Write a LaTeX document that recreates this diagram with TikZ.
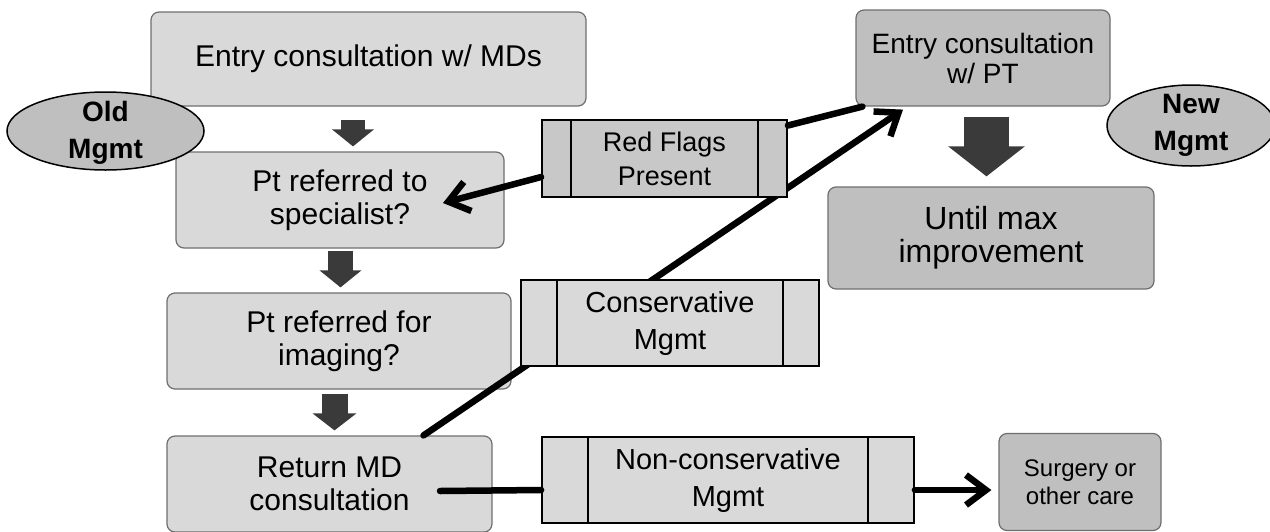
\documentclass[tikz,border=0pt]{standalone}
\usepackage{fontspec}
\setmainfont{Liberation Sans}
\usetikzlibrary{arrows.meta,shapes.geometric}

\definecolor{boxlight}{HTML}{D9D9D9}
\definecolor{boxdark}{HTML}{BFBFBF}
\definecolor{flaggray}{HTML}{C8C8C8}
\definecolor{arrowgray}{HTML}{3A3A3A}
\definecolor{rimgray}{HTML}{6E6E6E}

\tikzstyle{mdbox} = [rectangle, rounded corners=8pt, draw=rimgray, line width=1.2pt, fill=boxlight, align=center, inner sep=0pt, font=\fontsize{30}{33}\selectfont]
\tikzstyle{ptbox} = [mdbox, fill=boxdark]
\tikzstyle{procbox} = [rectangle, draw=black, line width=1.8pt, fill=boxlight, align=center, inner sep=0pt, font=\fontsize{29}{37}\selectfont]
\tikzstyle{mgmt} = [ellipse, draw=black, line width=1.5pt, fill=boxdark, inner sep=0pt]
\tikzstyle{mgmttext} = [align=center, inner sep=0pt, font=\bfseries\fontsize{28}{37}\selectfont]
\tikzstyle{blockarr} = [draw=arrowgray]
\tikzstyle{link} = [draw=black, line width=6.5pt, line cap=round]
\tikzstyle{linkarr} = [link, -{Straight Barb[length=20pt,width=30pt]}]

\begin{document}
\begin{tikzpicture}[x=1pt, y=-1pt]
\useasboundingbox (0,0) rectangle (1270,531);

% old management path
\node[mdbox, minimum width=435pt, minimum height=94pt] (a) at (368.5,59) {Entry consultation w/ MDs};
\node[mdbox, minimum width=328pt, minimum height=96pt] (b) at (340,200) {Pt referred to\\specialist?};
\node[mdbox, minimum width=344pt, minimum height=96pt] (c) at (339,341) {Pt referred for\\imaging?};
\node[mdbox, minimum width=325pt, minimum height=96pt] (d) at (329.5,484) {Return MD\\consultation};

% new management path
\node[ptbox, minimum width=254pt, minimum height=96pt, font=\fontsize{28}{30}\selectfont] (pt) at (983,58) {Entry consultation\\w/ PT};
\node[ptbox, minimum width=326pt, minimum height=102pt, font=\fontsize{32}{33}\selectfont] (until) at (991,238) {Until max\\improvement};
\node[ptbox, minimum width=162pt, minimum height=97pt, font=\fontsize{24}{28}\selectfont] (surg) at (1080,482) {Surgery or\\other care};

% labels
\node[mgmt, minimum width=197pt, minimum height=78pt] (oldm) at (105.5,131) {};
\node[mgmttext] at ([yshift=-2pt]oldm.center) {Old\\Mgmt};
\node[mgmt, minimum width=168pt, minimum height=81pt] (newm) at (1191,125.5) {};
\node[mgmttext] at (newm.center) {New\\Mgmt};

% block arrows
\draw[blockarr, line width=24pt, -{Triangle[length=17pt,width=41pt]}, shorten <=13pt, shorten >=5pt] ([xshift=-15.5pt]a.south) -- ([xshift=13pt]b.north);
\draw[blockarr, line width=25pt, -{Triangle[length=17pt,width=41pt]}, shorten <=2pt, shorten >=5pt] ([xshift=0.5pt]b.south) -- ([xshift=1.5pt]c.north);
\draw[blockarr, line width=26pt, -{Triangle[length=17pt,width=43pt]}, shorten <=4pt, shorten >=5pt] ([xshift=-4.5pt]c.south) -- ([xshift=5pt]d.north);
\draw[blockarr, line width=45pt, -{Triangle[length=30pt,width=75pt]}, shorten <=10pt, shorten >=10pt] ([xshift=3.5pt]pt.south) -- ([xshift=-4.5pt]until.north);

% conservative route, under its box
\draw[linkarr] ([xshift=94pt]d.north) -- ([xshift=-80pt,yshift=-3pt]pt.south);

% decision boxes
\node[procbox, fill=flaggray, minimum width=245pt, minimum height=77pt, font=\fontsize{27}{34}\selectfont] (rf) at (664.5,158.5) {Red Flags\\Present};
\node[procbox, minimum width=298pt, minimum height=86pt] (cons) at (670,323) {Conservative\\Mgmt};
\node[procbox, minimum width=372pt, minimum height=86pt] (nc) at (728,480) {Non-conservative\\Mgmt};
\foreach \n/\i in {rf/30, cons/37, nc/47}
{
    \draw[line width=1.8pt] ([xshift=\i pt]\n.north west) -- ([xshift=\i pt]\n.south west);
    \draw[line width=1.8pt] ([xshift=-\i pt]\n.north east) -- ([xshift=-\i pt]\n.south east);
}

% connectors
\draw[linkarr] ([yshift=-18.5pt]rf.west) -- ([xshift=103pt,yshift=-3pt]b.center);
\draw[link] ([yshift=33pt]rf.east) -- ([xshift=7pt]pt.south west);
\draw[link] ([xshift=110.5pt,yshift=-7pt]d.center) -- ([yshift=-10pt]nc.west);
\draw[linkarr] ([yshift=-10pt]nc.east) -- ([xshift=-7pt,yshift=-8pt]surg.west);
\end{tikzpicture}
\end{document}
